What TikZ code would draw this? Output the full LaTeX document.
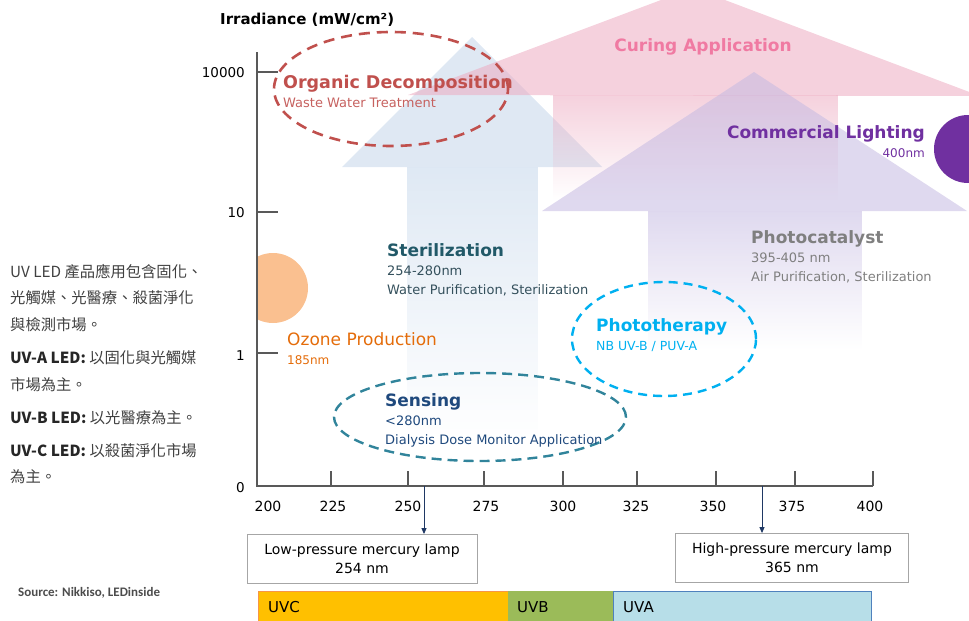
\documentclass[tikz,border=0pt]{standalone}
\usepackage{fontspec}
\setmainfont{DejaVu Sans}
\newfontfamily\cjk{Noto Sans CJK TC}
\newfontfamily\calfont{Carlito}
\usetikzlibrary{fadings,arrows.meta}
\tikzfading[name=fadedown, top color=transparent!0, bottom color=transparent!100]
\definecolor{bluearr}{HTML}{C4D6EA}
\definecolor{pinkarr}{HTML}{EDABC1}
\definecolor{lavarr}{HTML}{C5BAE2}
\definecolor{organic}{HTML}{C0504D}
\definecolor{curing}{HTML}{F07AA2}
\definecolor{commercial}{HTML}{7030A0}
\definecolor{steril}{HTML}{215968}
\definecolor{sterilsub}{HTML}{34505C}
\definecolor{photocat}{HTML}{7F7F7F}
\definecolor{ozone}{HTML}{E46C0A}
\definecolor{ozonefill}{HTML}{FAC090}
\definecolor{photother}{HTML}{00B0F0}
\definecolor{sensing}{HTML}{1F497D}
\definecolor{sensring}{HTML}{31849B}
\definecolor{axisgray}{HTML}{595959}
\definecolor{boxgray}{HTML}{A6A6A6}
\definecolor{navy}{HTML}{1F3864}
\definecolor{uvc}{HTML}{FFC000}
\definecolor{uvcedge}{HTML}{F79646}
\definecolor{uvb}{HTML}{9BBB59}
\definecolor{uva}{HTML}{B7DEE8}
\definecolor{uvaedge}{HTML}{4F81BD}
\definecolor{blocktext}{HTML}{404040}
\newcommand\fsz[1]{\fontsize{#1}{#1}\selectfont}
\begin{document}
\begin{tikzpicture}[x=1pt,y=-1pt,
  t/.style={inner sep=0pt, anchor=base west},
  tc/.style={inner sep=0pt, anchor=base},
  tr/.style={inner sep=0pt, anchor=base east},
  ring/.style={line width=2.6pt, dash pattern=on 11pt off 7pt},
  axisline/.style={draw=axisgray, line width=1.1pt},
  lampbox/.style={draw=boxgray, line width=0.8pt, fill=white, minimum width=230pt, minimum height=49pt, align=center, inner sep=0pt, font=\fontsize{14}{19}\selectfont},
  pointer/.style={draw=navy, line width=0.9pt, -{Triangle[length=6pt,width=5pt]}},
  band/.style={inner sep=0pt, anchor=west}
]
\useasboundingbox (0,0) rectangle (969,621);

% big translucent arrows
\fill[bluearr, fill opacity=.55] (472,37) -- (602,167) -- (342,167) -- cycle;
\fill[bluearr, fill opacity=.55, path fading=fadedown] (407,167) rectangle (538,440);
\fill[pinkarr, fill opacity=.55] (693,-12) -- (980,96) -- (408,95) -- cycle;
\fill[pinkarr, fill opacity=.55, path fading=fadedown] (553,95) rectangle (838,200);
\fill[lavarr, fill opacity=.55] (754,72) -- (967,211) -- (542,211) -- cycle;
\fill[lavarr, fill opacity=.55, path fading=fadedown] (648,211) rectangle (862,350);

% circles
\begin{scope}
\clip (258,200) rectangle (400,400);
\fill[ozonefill] (273,288) circle[radius=35pt];
\end{scope}
\fill[commercial] (968,149) circle[radius=34pt];

% axes
\draw[axisline] (257,52) -- (257,486) -- (873,486);
\foreach \yy in {72,212,353} \draw[axisline] (257,\yy) -- (278,\yy);
\foreach \xx in {331,408,484,563,637,716,795,873} \draw[axisline] (\xx,486) -- (\xx,471);

\node[t] (ylabel) at (220,24) {\fsz{15}\bfseries Irradiance (mW/cm²)};
\node[tr] (y10000) at (245,77) {\fsz{13.5}10000};
\node[tr] (y10) at (245,217) {\fsz{13.5}10};
\node[tr] (y1) at (245,360) {\fsz{13.5}1};
\node[tr] (y0) at (245,492) {\fsz{13.5}0};
\foreach \lab/\xx in {200/268,225/333,250/408,275/486,300/563,325/636,350/713,375/792,400/870}
  \node[tc] (x\lab) at (\xx,511) {\fsz{14}\lab};

% dashed rings
\draw[ring, organic] (391,89) ellipse[x radius=117pt, y radius=57pt];
\draw[ring, photother, line width=2.4pt, dash pattern=on 9pt off 6pt] (664,339) ellipse[x radius=92pt, y radius=57pt];
\draw[ring, sensring, line width=2.4pt, dash pattern=on 10pt off 6pt] (480,417) ellipse[x radius=146pt, y radius=44pt];

% application labels
\node[t, organic] (org) at (283,88) {\fsz{17.5}\bfseries Organic Decomposition};
\node[t, organic!90] (orgsub) at (283,107) {\fsz{13}Waste Water Treatment};
\node[tc, curing] (cur) at (703,51) {\fsz{17}\bfseries Curing Application};
\node[tr, commercial] (com) at (925,138) {\fsz{17}\bfseries Commercial Lighting};
\node[tr, commercial] (comsub) at (925,157) {\fsz{12}400nm};
\node[t, steril] (ster) at (387,256) {\fsz{17}\bfseries Sterilization};
\node[t, sterilsub] (ster1) at (387,275) {\fsz{13}254-280nm};
\node[t, sterilsub] (ster2) at (387,294) {\fsz{13}Water Purification, Sterilization};
\node[t, photocat] (pc) at (751,243) {\fsz{17}\bfseries Photocatalyst};
\node[t, photocat] (pc1) at (751,262) {\fsz{13}395-405 nm};
\node[t, photocat] (pc2) at (751,281) {\fsz{13}Air Purification, Sterilization};
\node[t, ozone] (oz) at (287,345) {\fsz{17}Ozone Production};
\node[t, ozone] (oz1) at (287,364) {\fsz{12}185nm};
\node[t, photother] (pt) at (596,331) {\fsz{17}\bfseries Phototherapy};
\node[t, photother] (pt1) at (596,350) {\fsz{12.5}NB UV-B / PUV-A};
\node[t, sensing] (sen) at (385,406) {\fsz{17}\bfseries Sensing};
\node[t, sensing] (sen1) at (385,425) {\fsz{13}<280nm};
\node[t, sensing] (sen2) at (385,444) {\fsz{13}Dialysis Dose Monitor Application};

% lamp boxes
\node[lampbox] (lowbox) at (362,559) {Low-pressure mercury lamp\\254 nm};
\node[lampbox, minimum width=233pt] (highbox) at (792,558) {High-pressure mercury lamp\\365 nm};
\coordinate (p254) at (424,486);
\coordinate (p365) at (762,486);
\draw[pointer] (p254) -- (p254 |- lowbox.north);
\draw[pointer] (p365) -- (p365 |- highbox.north);

% UV bands
\filldraw[fill=uvc, draw=uvcedge, line width=0.8pt] (258,591) rectangle (508,630);
\filldraw[fill=uvb, draw=uvb, line width=0.8pt] (508,591) rectangle (613,630);
\filldraw[fill=uva, draw=uvaedge, line width=1pt] (613,591) rectangle (871,630);
\node[band] (uvclab) at (268,607) {\fsz{15}UVC};
\node[band] (uvblab) at (517,607) {\fsz{15}UVB};
\node[band] (uvalab) at (623,607) {\fsz{15}UVA};

% left text block
\begin{scope}[every node/.style={t, blocktext}]
\node (l1) at (10,277) {\cjk\fsz{15.3}UV LED 產品應用包含固化、};
\node (l2) at (10,303) {\cjk\fsz{15.3}光觸媒、光醫療、殺菌淨化};
\node (l3) at (10,330) {\cjk\fsz{15.3}與檢測市場。};
\node (l4) at (10,363) {\cjk\fsz{15.3}\textbf{\color{black!85}UV-A LED:} 以固化與光觸媒};
\node (l5) at (10,390) {\cjk\fsz{15.3}市場為主。};
\node (l6) at (10,423) {\cjk\fsz{15.3}\textbf{\color{black!85}UV-B LED:} 以光醫療為主。};
\node (l7) at (10,456) {\cjk\fsz{15.3}\textbf{\color{black!85}UV-C LED:} 以殺菌淨化市場};
\node (l8) at (10,482) {\cjk\fsz{15.3}為主。};
\end{scope}
\node[t, black!70] (src) at (18,596) {\calfont\fsz{13}\bfseries Source: Nikkiso, LEDinside};
\end{tikzpicture}
\end{document}
